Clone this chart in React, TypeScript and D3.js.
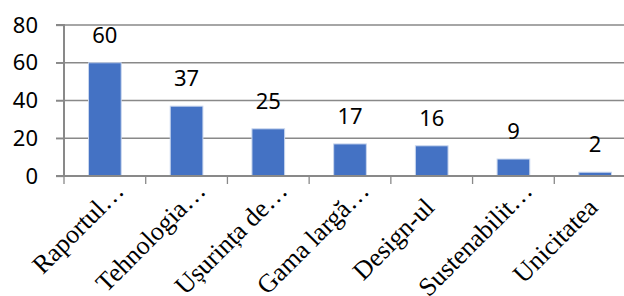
import { useEffect, useRef } from 'react';
import * as d3 from 'd3';

// chart data
const categories = ['Raportul…', 'Tehnologia…', 'Ușurința de…', 'Gama largă…', 'Design-ul', 'Sustenabilit…', 'Unicitatea'];
const values = [60, 37, 25, 17, 16, 9, 2];
const yTicks = [0, 20, 40, 60, 80];

export default function App() {
  const ref = useRef<SVGSVGElement>(null);

  useEffect(() => {
    if (!ref.current) return;
    const svg = d3.select(ref.current);
    svg.selectAll('*').remove();

    const width = 624;
    const left = 64;
    const right = 636; // plot area runs past the picture edge
    const top = 25;
    const bottom = 176;

    const x = d3.scaleBand<string>()
      .domain(categories)
      .range([left, right])
      .paddingInner(0.6)
      .paddingOuter(0.3);
    const step = x.step();

    const y = d3.scaleLinear()
      .domain([0, 80])
      .range([bottom, top]);

    const grey = '#898989';

    // gridlines
    svg.append('g')
      .selectAll('line')
      .data(yTicks.filter(t => t > 0))
      .enter()
      .append('line')
      .attr('x1', left - 8)
      .attr('x2', width)
      .attr('y1', d => y(d))
      .attr('y2', d => y(d))
      .attr('stroke', grey)
      .attr('stroke-width', 1.3);

    // y axis
    const yAxis = svg.append('g')
      .attr('transform', `translate(${left},0)`)
      .call(d3.axisLeft(y).tickValues(yTicks).tickSize(8).tickPadding(18));
    yAxis.select('.domain').attr('stroke', grey).attr('stroke-width', 2).attr('d', `M-8,${top}H0V${bottom}`);
    yAxis.selectAll('.tick line').attr('stroke', grey).attr('stroke-width', 1.3);
    yAxis.selectAll('.tick text')
      .attr('fill', '#000')
      .style('font-family', '"Noto Sans", sans-serif')
      .style('font-size', '22px');

    // bars
    svg.append('g')
      .selectAll('rect')
      .data(values)
      .enter()
      .append('rect')
      .attr('x', (_, i) => x(categories[i]) || 0)
      .attr('y', d => y(d))
      .attr('width', x.bandwidth())
      .attr('height', d => bottom - y(d))
      .attr('fill', '#4472C4')
      .attr('stroke', '#c9d6ee')
      .attr('stroke-width', 1);

    // x axis line + boundary ticks
    svg.append('line')
      .attr('x1', left - 8)
      .attr('x2', width)
      .attr('y1', bottom)
      .attr('y2', bottom)
      .attr('stroke', grey)
      .attr('stroke-width', 2);
    svg.append('g')
      .selectAll('line')
      .data(d3.range(categories.length + 1))
      .enter()
      .append('line')
      .attr('x1', i => left + i * step)
      .attr('x2', i => left + i * step)
      .attr('y1', bottom)
      .attr('y2', bottom + 8)
      .attr('stroke', grey)
      .attr('stroke-width', 1.3);

    // value labels
    svg.append('g')
      .selectAll('text')
      .data(values)
      .enter()
      .append('text')
      .attr('x', (_, i) => (x(categories[i]) || 0) + x.bandwidth() / 2)
      .attr('y', d => y(d) - 20)
      .attr('text-anchor', 'middle')
      .style('font-family', '"Noto Sans", sans-serif')
      .style('font-size', '22px')
      .text(d => d);

    // category labels, rotated
    svg.append('g')
      .selectAll('text')
      .data(categories)
      .enter()
      .append('text')
      .attr('transform', d => `translate(${(x(d) || 0) + x.bandwidth() / 2 + 4},${bottom + 33}) rotate(-45)`)
      .attr('dx', d => (d.endsWith('…') ? '0.9em' : '0'))
      .attr('text-anchor', 'end')
      .style('font-family', '"Liberation Serif", "Times New Roman", serif')
      .style('font-size', '26px')
      .text(d => d);
  }, []);

  return (
    <svg
      ref={ref}
      width={624}
      height={296}
      style={{ position: 'absolute', left: 0, top: 0, background: '#fff' }}
    />
  );
}
